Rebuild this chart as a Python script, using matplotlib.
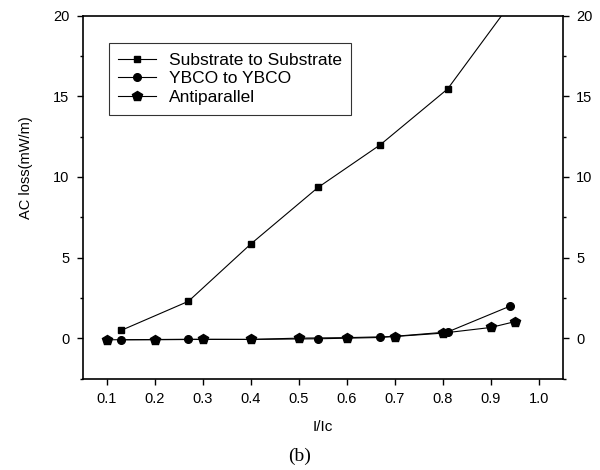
import numpy as np
import matplotlib
matplotlib.use("Agg")
import matplotlib.pyplot as plt

# data
x_sub = [0.13, 0.27, 0.40, 0.54, 0.67, 0.81, 0.94]
y_sub = [0.5, 2.3, 5.85, 9.35, 12.0, 15.45, 20.7]

x_ybco = [0.13, 0.27, 0.40, 0.54, 0.67, 0.81, 0.94]
y_ybco = [-0.08, -0.05, -0.06, -0.02, 0.06, 0.4, 2.0]

x_anti = [0.10, 0.20, 0.30, 0.40, 0.50, 0.60, 0.70, 0.80, 0.90, 0.95]
y_anti = [-0.08, -0.08, -0.06, -0.06, 0.02, 0.05, 0.12, 0.33, 0.68, 1.04]

x_ticks = [0.1, 0.2, 0.3, 0.4, 0.5, 0.6, 0.7, 0.8, 0.9, 1.0]
y_ticks = [0, 5, 10, 15, 20]

plt.rcParams['font.family'] = ['Liberation Sans', 'DejaVu Sans']

fig = plt.figure(figsize=(6, 4.7), dpi=100)
ax = fig.add_axes([0.138, 0.194, 0.800, 0.773])

ax.plot(x_sub, y_sub, color='black', lw=0.8, marker='s', ms=5,
        label='Substrate to Substrate')
ax.plot(x_ybco, y_ybco, color='black', lw=0.8, marker='o', ms=5.5,
        label='YBCO to YBCO')
ax.plot(x_anti, y_anti, color='black', lw=0.8, marker='p', ms=7.5,
        label='Antiparallel')

ax.set_xlim(0.05, 1.05)
ax.set_ylim(-2.5, 20)
ax.set_xticks(x_ticks)
ax.set_xticklabels([f"{t:.1f}" for t in x_ticks])
ax.set_yticks(y_ticks)
ax.set_yticks(np.arange(-2.5, 20, 5), minor=True)

ax.tick_params(axis='both', which='major', direction='out', length=4.5,
               width=1, labelsize=10.5, colors='black', pad=5)
ax.tick_params(axis='y', which='minor', direction='out', length=2.5, width=1)
ax.tick_params(axis='y', right=True, labelright=True, which='both')
ax.tick_params(axis='x', top=False)

for s in ax.spines.values():
    s.set_linewidth(1.2)

ax.set_ylabel('AC loss(mW/m)', fontsize=10.5)
ax.yaxis.set_label_coords(-0.104, 0.58)
ax.set_xlabel('I/Ic', fontsize=11, labelpad=10)

leg = ax.legend(loc='upper left', bbox_to_anchor=(0.054, 0.924),
                borderaxespad=0, fontsize=12.5,
                frameon=True, fancybox=False, edgecolor='black',
                handlelength=2.2, borderpad=0.55, labelspacing=0.2,
                handletextpad=0.7)
leg.get_frame().set_linewidth(0.8)

fig.text(0.5, 0.02, '(b)', ha='center', fontsize=14,
         family=['Liberation Serif', 'DejaVu Serif'])

fig.savefig('out.png', dpi=100)
